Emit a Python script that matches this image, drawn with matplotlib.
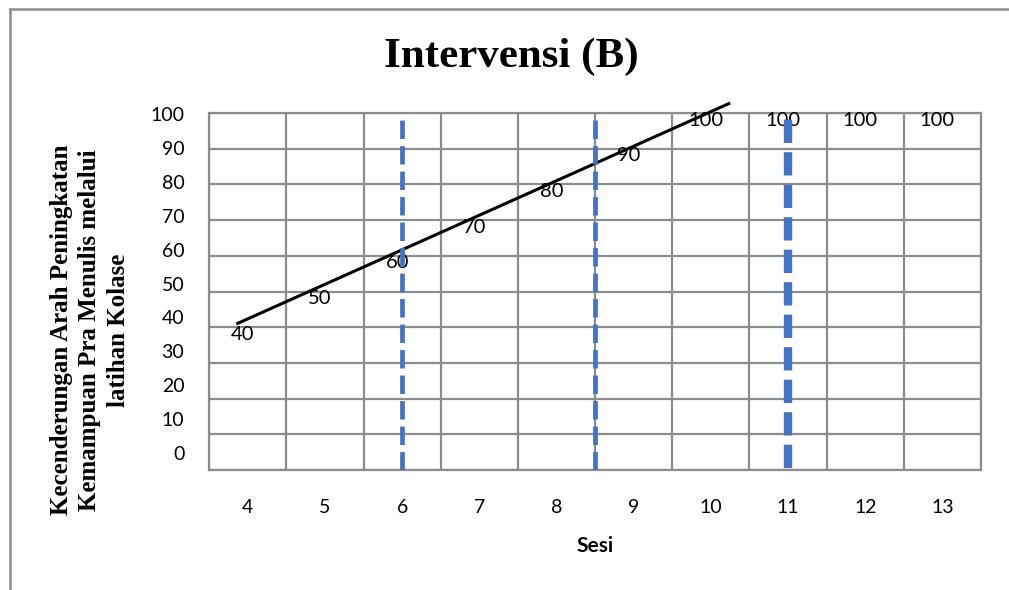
import matplotlib
matplotlib.use("Agg")
import matplotlib.pyplot as plt
from matplotlib.lines import Line2D

# ---- data ----
sessions = [4, 5, 6, 7, 8, 9, 10, 11, 12, 13]
scores = [40, 50, 60, 70, 80, 90, 100, 100, 100, 100]
trend_x = [3.85, 10.25]
trend_y = [40.9, 102.8]
phase_lines = [6, 8.5, 11]
y_ticks = [0, 10, 20, 30, 40, 50, 60, 70, 80, 90, 100]

title = "Intervensi (B)"
ylabel = "Kecenderungan Arah Peningkatan\nKemampuan Pra Menulis melalui\nlatihan Kolase"
xlabel = "Sesi"

GRID = "#8c8c8c"
BLUE = "#4472C4"
SANS = ["Lato", "DejaVu Sans"]
SERIF = ["Liberation Serif", "DejaVu Serif"]

fig = plt.figure(figsize=(10.09, 5.90), dpi=100)
W, H = 1009, 590
ax = fig.add_axes([209.3 / W, 1 - 470 / H, (981 - 209.3) / W, (470 - 113) / H])

ax.set_xlim(3.5, 13.5)
ax.set_ylim(0, 100)

# grid
ax.set_xticks(sessions)
ax.set_xticks([s + 0.5 for s in [3] + sessions], minor=True)
ax.set_yticks(y_ticks)
ax.set_yticklabels([])
ax.grid(False)
ax.grid(True, which="minor", axis="x", color=GRID, lw=1.6)
ax.grid(True, which="major", axis="y", color=GRID, lw=1.6)
ax.set_axisbelow(True)
for s in ax.spines.values():
    s.set_color(GRID)
    s.set_linewidth(1.6)
ax.tick_params(axis="both", which="both", length=0)
ax.tick_params(axis="x", which="major", pad=21, labelsize=14)
for t in ax.get_xticklabels():
    t.set_family(SANS)

# y tick labels (offset scale as in the reference)
ax2 = ax.twinx()
ax2.set_ylim(-5.0, 100.3)
ax2.yaxis.tick_left()
ax2.set_yticks(y_ticks)
ax2.set_yticklabels([str(v) for v in y_ticks], family=SANS, fontsize=14)
ax2.tick_params(axis="y", length=0, pad=18)
for s in ax2.spines.values():
    s.set_visible(False)

# data labels
for x, y in zip(sessions, scores):
    ax.annotate(str(y), (x, y), xytext=(-5, -7), textcoords="offset pixels",
                ha="center", va="center", fontsize=14.5, family=SANS,
                color="black", zorder=3, annotation_clip=False)

# trend line
ax.plot(trend_x, trend_y, color="black", lw=2.2, zorder=4, clip_on=False,
        solid_capstyle="butt")

# phase lines
for i, x in enumerate(phase_lines):
    if i < 2:
        ax.axvline(x, color=BLUE, lw=3.4, dashes=(3.9, 1.5), zorder=5)
    else:
        ax.axvline(x, color=BLUE, lw=6.0, dashes=(2.8, 1.1), zorder=5,
                   ymin=0.005, ymax=0.995)

ax.set_xlabel(xlabel, family=SANS, fontsize=15, fontweight="bold", labelpad=14)

fig.text(511 / W, 1 - 57 / H, title, family=SERIF, fontsize=31,
         fontweight="bold", ha="center", va="center")
fig.text(90 / W, 1 - 330 / H, ylabel, family=SERIF, fontsize=18,
         fontweight="bold", ha="center", va="center", rotation=90,
         multialignment="center", linespacing=1.3)

# outer frame (top and left)
fig.add_artist(Line2D([10 / W, 1.0], [1 - 9 / H, 1 - 9 / H], color=GRID, lw=1.8,
                      transform=fig.transFigure))
fig.add_artist(Line2D([10 / W, 10 / W], [1 - 9 / H, 0.0], color=GRID, lw=1.8,
                      transform=fig.transFigure))

fig.savefig("out.png", dpi=100)
